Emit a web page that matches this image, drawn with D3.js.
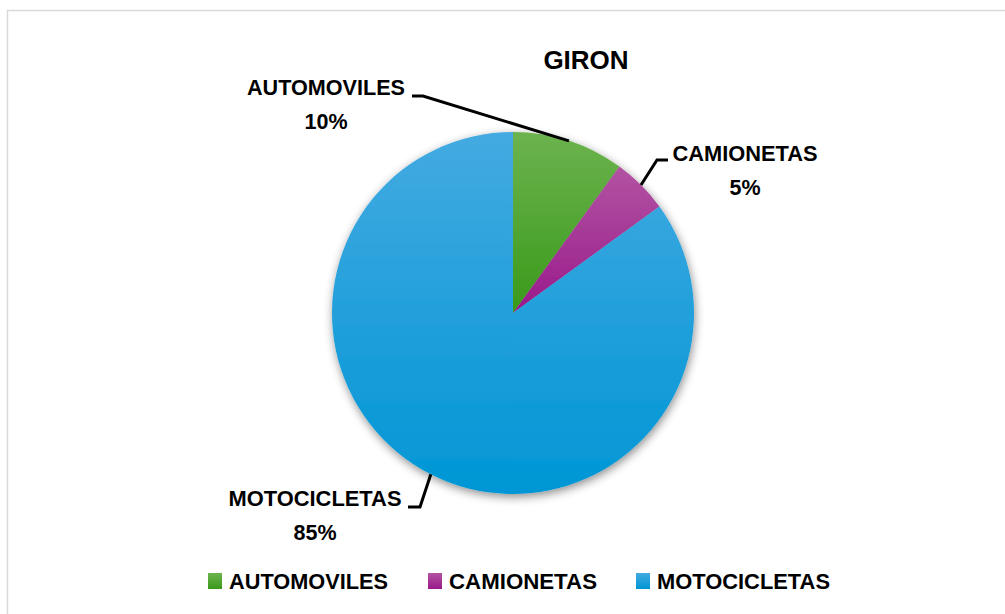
<!DOCTYPE html>
<html>
<head>
<meta charset="utf-8">
<script src="https://cdn.jsdelivr.net/npm/d3@7"></script>
<style>
  body { margin: 0; background: #fff; }
  svg { display: block; font-family: "Liberation Sans", Arial, sans-serif; font-weight: bold; }
</style>
</head>
<body>
<div id="chart"></div>
<script>
// data
var categories = ["AUTOMOVILES", "CAMIONETAS", "MOTOCICLETAS"];
var values = [10, 5, 85];
var percentLabels = ["10%", "5%", "85%"];
var title = "GIRON";

var colorsTop = ["#6cb34e", "#b253a2", "#44aae1"];
var colorsBottom = ["#3a9a1b", "#991a8b", "#0096d5"];

var svgWidth = 1005;
var svgHeight = 614;

var svg = d3.select("#chart")
  .append("svg")
  .attr("width", svgWidth)
  .attr("height", svgHeight);

var defs = svg.append("defs");

// gradients for the slices
categories.forEach(function(c, i) {
  var g = defs.append("linearGradient")
    .attr("id", "grad" + i)
    .attr("x1", 0).attr("y1", 0)
    .attr("x2", 0).attr("y2", 1);
  g.append("stop").attr("offset", "0%").attr("stop-color", colorsTop[i]);
  g.append("stop").attr("offset", "100%").attr("stop-color", colorsBottom[i]);
});

var shadow = defs.append("filter")
  .attr("id", "shadow")
  .attr("x", "-20%").attr("y", "-20%")
  .attr("width", "140%").attr("height", "140%");
shadow.append("feDropShadow")
  .attr("dx", 1).attr("dy", 3)
  .attr("stdDeviation", 5)
  .attr("flood-color", "#000")
  .attr("flood-opacity", 0.45);

// chart border (runs off right/bottom edge)
svg.append("rect")
  .attr("x", 7.5).attr("y", 10.5)
  .attr("width", 1100).attr("height", 700)
  .attr("fill", "none")
  .attr("stroke", "#d9d9d9")
  .attr("stroke-width", 1.5);

svg.append("text")
  .attr("x", 586)
  .attr("y", 69)
  .attr("text-anchor", "middle")
  .attr("font-size", "26px")
  .attr("fill", "#000")
  .text(title);

var cx = 513, cy = 313, radius = 181;

var pie = d3.pie().sort(null).value(d => d.value);
var arc = d3.arc().innerRadius(0).outerRadius(radius);
var edgeArc = d3.arc().innerRadius(radius).outerRadius(radius);

var data = categories.map((c, i) => ({ name: c, value: values[i], pct: percentLabels[i], i: i }));
var arcs = pie(data);

var pieGroup = svg.append("g")
  .attr("transform", `translate(${cx}, ${cy})`);

pieGroup.append("g")
  .attr("filter", "url(#shadow)")
  .selectAll("path")
  .data(arcs)
  .enter()
  .append("path")
  .attr("d", arc)
  .attr("fill", d => "url(#grad" + d.data.i + ")");

// label layout: text centre, first baseline, elbow point, line end, name width
var labelLayout = [
  { x: 326, y: 95, elbow: [423, 96], end: [412, 96], w: 158 },
  { x: 745, y: 161, elbow: [657, 160], end: [668, 160], w: 145 },
  { x: 315, y: 506, elbow: [420, 507], end: [408, 507], w: 173 }
];

arcs.forEach(function(d, i) {
  var p = edgeArc.centroid(d);
  var L = labelLayout[i];
  svg.append("polyline")
    .attr("points", [[cx + p[0], cy + p[1]], L.elbow, L.end].map(q => q.join(",")).join(" "))
    .attr("fill", "none")
    .attr("stroke", "#000")
    .attr("stroke-width", 3);

  var t = svg.append("text")
    .attr("text-anchor", "middle")
    .attr("font-size", "21.5px")
    .attr("fill", "#000");
  t.append("tspan").attr("x", L.x).attr("y", L.y)
    .attr("textLength", L.w).attr("lengthAdjust", "spacingAndGlyphs")
    .text(d.data.name);
  t.append("tspan").attr("x", L.x).attr("y", L.y + 34).text(d.data.pct);
});

// legend
var legendX = [208, 428, 636];
var legendTextW = [159, 148, 173];
var legend = svg.append("g");
categories.forEach(function(c, i) {
  legend.append("rect")
    .attr("x", legendX[i]).attr("y", 573)
    .attr("width", 14).attr("height", 16)
    .attr("fill", "url(#grad" + i + ")");
  legend.append("text")
    .attr("x", legendX[i] + 21)
    .attr("y", 589)
    .attr("font-size", "21.5px")
    .attr("textLength", legendTextW[i])
    .attr("lengthAdjust", "spacingAndGlyphs")
    .attr("fill", "#000")
    .text(c);
});
</script>
</body>
</html>
